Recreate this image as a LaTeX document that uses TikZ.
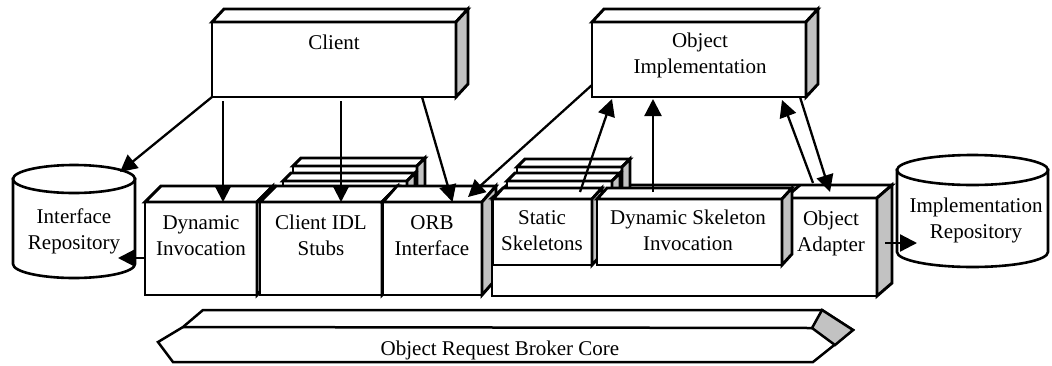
\documentclass[tikz,border=0pt]{standalone}
\usepackage{fontspec}
\setmainfont{Liberation Serif}
\usetikzlibrary{arrows.meta,calc}

% 3D block: name, front x, front y, width, height, depth dx, depth dy
\newcommand\cubebox[7]{%
  \node[front, minimum width=#4pt, minimum height=#5pt, anchor=north west] (#1) at (#2,#3) {};
  \draw[edge, fill=white] (#1.north west) -- ++(#6,#7) -- ([shift={(#6,#7)}]#1.north east) -- (#1.north east) -- cycle;
  \draw[edge, fill=sidegray] (#1.north east) -- ++(#6,#7) -- ([shift={(#6,#7)}]#1.south east) -- (#1.south east) -- cycle;
}

\definecolor{sidegray}{gray}{0.76}

\begin{document}
\begin{tikzpicture}[x=1pt,y=-1pt,
  edge/.style={draw=black, line width=2.9pt, line join=miter},
  front/.style={edge, fill=white, inner sep=0pt, outer sep=0pt},
  arr/.style={line width=2.3pt, -{Triangle[length=17pt,width=17pt]}},
  txt/.style={align=center, inner sep=0pt, anchor=base, font=\fontsize{21}{25.5}\selectfont},
  cyl/.style={edge, line width=2.6pt, fill=white}]

\useasboundingbox (0,0) rectangle (1052,365);

% upper blocks
\cubebox{client}{212}{22}{244}{75}{12}{-13}
\cubebox{oi}{592}{22}{214}{75}{12}{-13}

% repositories
\draw[cyl] (13,179) -- (13,264) arc[start angle=180, end angle=0, x radius=61, y radius=14] -- (135,179) -- cycle;
\draw[cyl] (74,179) ellipse [x radius=61, y radius=14];
\draw[cyl] (897,170) -- (897,252) arc[start angle=180, end angle=0, x radius=75.5, y radius=15] -- (1048,170) -- cycle;
\draw[cyl] (972.5,170) ellipse [x radius=75.5, y radius=15];

% client side
\cubebox{di}{145}{202}{112}{93}{16}{-16}
\cubebox{cidlA}{293}{166}{124}{36}{8}{-8}
\cubebox{cidlB}{283}{181}{124}{21}{8}{-8}
\cubebox{cidl}{260}{202}{122}{93}{16}{-16}
\cubebox{orb}{383}{202}{99}{93}{14}{-16}

% server side
\cubebox{srv}{492}{198}{385}{98}{15}{-13}
\node[inner sep=0pt, outer sep=0pt, minimum width=92pt, minimum height=98pt, anchor=north west] (oa) at (785,198) {};
\draw[edge] (oa.north west) -- ++(15,-13);
\cubebox{skA}{517}{167}{105}{32}{8}{-8}
\cubebox{skB}{507}{181}{105}{18}{8}{-8}
\cubebox{static}{493}{199}{99}{66}{10}{-11}
\cubebox{dsi}{597}{199}{185}{66}{10}{-11}

% broker core
\draw[edge, line width=2.5pt, fill=white] (203,310) -- (822,310) -- (853,330) -- (813,362) -- (173,362) -- (158,342) -- (183,327) -- cycle;
\draw[edge, line width=2.5pt] (183,327) -- (812,328);
\draw[edge, line width=2.5pt, fill=sidegray] (812,328) -- (822,310) -- (853,330) -- (835,345) -- cycle;

% connector ends on the repositories
\coordinate (irTop) at (120,172);
\coordinate (irSide) at (118,258);
\coordinate (impSide) at (917,243);

% connectors
\draw[arr] (client.south west) -- (irTop);
\draw[arr] ([xshift=11pt,yshift=-4pt]client.south west) -- ([xshift=11pt]client.south west |- di.north);
\draw[arr] ([xshift=129pt,yshift=-4pt]client.south west) -- ([xshift=129pt]client.south west |- cidl.north);
\draw[arr] ([xshift=-34pt]client.south east) -- ([xshift=20pt]orb.north);
\draw[arr] ([yshift=12pt]oi.south west) -- ([xshift=-14pt,yshift=5pt]orb.north east);
\draw[arr] ([xshift=-12pt,yshift=7pt]static.north east) -- ([xshift=20pt,yshift=-2pt]oi.south west);
\draw[arr] ([xshift=56pt,yshift=7pt]dsi.north west) -- ([xshift=56pt,yshift=-2pt]dsi.north west |- oi.south);
\draw[arr] ([xshift=28pt,yshift=15pt]oa.north west) -- ([xshift=-24pt,yshift=-3pt]oi.south east);
\draw[arr] ([xshift=-6pt]oi.south east) -- ([xshift=45pt,yshift=6pt]oa.north west);
\draw[arr] ([yshift=-56pt]di.north west) -- (irSide);
\draw[arr] ([xshift=8pt,yshift=-45pt]oa.north east) -- (impSide);

% labels (base = baseline of the last line)
\node[txt] (clientT) at (334,49) {Client};
\node[txt] (oiT) at (700,73) {Object\\Implementation};
\node[txt] (irT) at (74,249) {Interface\\Repository};
\node[txt] (impT) at (976,238) {Implementation\\Repository};
\node[txt] (diT) at (201,255) {Dynamic\\Invocation};
\node[txt] (cidlT) at (321,255) {Client IDL\\Stubs};
\node[txt] (orbT) at (432,255) {ORB\\Interface};
\node[txt] (staticT) at (542,250) {Static\\Skeletons};
\node[txt] (dsiT) at (688,250) {Dynamic Skeleton\\Invocation};
\node[txt] (oaT) at (831,251) {Object\\Adapter};
\node[txt] (coreT) at (500,355) {Object Request Broker Core};
\end{tikzpicture}
\end{document}
